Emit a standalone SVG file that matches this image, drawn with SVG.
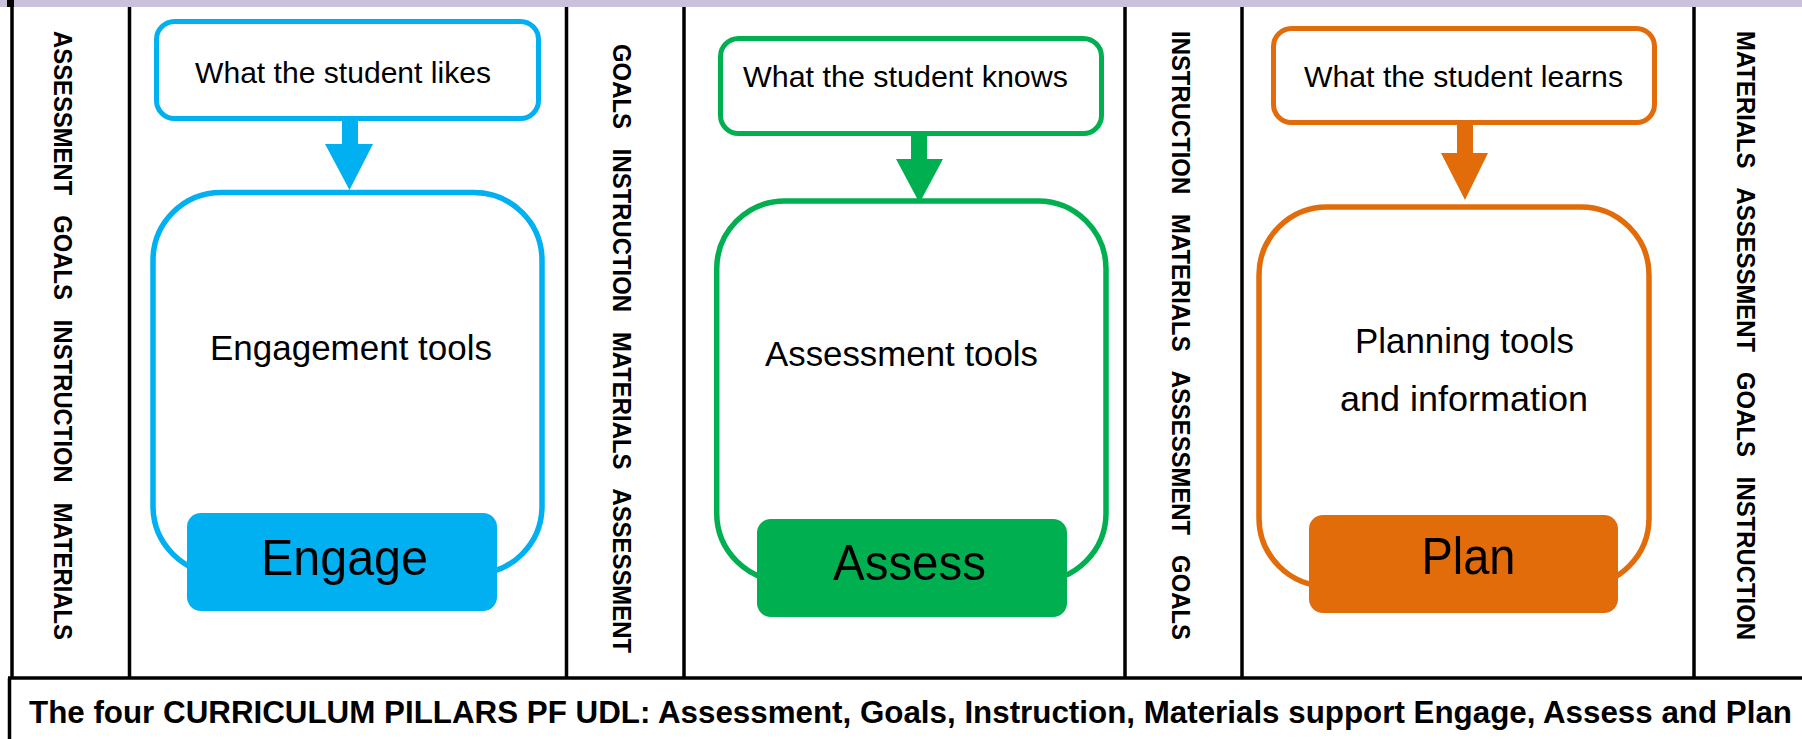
<svg xmlns="http://www.w3.org/2000/svg" width="1802" height="739" viewBox="0 0 1802 739">
<style>
.frame{stroke:#000;stroke-width:3.5;fill:none}
.pillar{font-family:"Liberation Sans",Arial,sans-serif;font-weight:bold;font-size:26px;fill:#000}
.lbl{font-family:"Liberation Sans",Arial,sans-serif;font-size:30px;fill:#000;text-anchor:middle}
.mid{font-family:"Liberation Sans",Arial,sans-serif;font-size:35px;fill:#000;text-anchor:middle}
.btn{font-family:"Liberation Sans",Arial,sans-serif;font-size:50px;fill:#000;text-anchor:middle}
.cap{font-family:"Liberation Sans",Arial,sans-serif;font-weight:bold;font-size:31px;fill:#000}
.blue{stroke:#00B0F0}
.green{stroke:#00B050}
.orange{stroke:#E36C0A}
.top{fill:#fff;stroke-width:5}
.main{fill:#fff;stroke-width:5.5}
</style>
<rect x="0" y="0" width="1802" height="739" fill="#fff"/>
<g id="frame">
<rect x="0" y="0" width="1802" height="7" fill="#CCC1DA"/>
<rect x="7" y="0" width="7" height="7" fill="#000"/>
<line class="frame" x1="12" y1="5" x2="12" y2="678"/>
<line class="frame" x1="129.5" y1="7" x2="129.5" y2="678"/>
<line class="frame" x1="566.5" y1="7" x2="566.5" y2="678"/>
<line class="frame" x1="684" y1="7" x2="684" y2="678"/>
<line class="frame" x1="1125" y1="7" x2="1125" y2="678"/>
<line class="frame" x1="1242" y1="7" x2="1242" y2="678"/>
<line class="frame" x1="1694" y1="7" x2="1694" y2="678"/>
<line class="frame" x1="8" y1="678" x2="1802" y2="678"/>
<line class="frame" x1="9.5" y1="678" x2="9.5" y2="739"/>
</g>
<g id="pillars">
<text class="pillar" xml:space="preserve" transform="translate(54,31) rotate(90)" textLength="609" lengthAdjust="spacingAndGlyphs">ASSESSMENT   GOALS   INSTRUCTION   MATERIALS</text>
<text class="pillar" xml:space="preserve" transform="translate(613,44) rotate(90)" textLength="609" lengthAdjust="spacingAndGlyphs">GOALS   INSTRUCTION   MATERIALS   ASSESSMENT</text>
<text class="pillar" xml:space="preserve" transform="translate(1172,31) rotate(90)" textLength="609" lengthAdjust="spacingAndGlyphs">INSTRUCTION   MATERIALS   ASSESSMENT   GOALS</text>
<text class="pillar" xml:space="preserve" transform="translate(1737,31) rotate(90)" textLength="609" lengthAdjust="spacingAndGlyphs">MATERIALS   ASSESSMENT   GOALS   INSTRUCTION</text>
</g>
<g id="connectors">
<polygon fill="#00B0F0" points="342,119 358,119 358,144 373,144 349.5,190 325,144 342,144"/>
<polygon fill="#00B050" points="911,134 927,134 927,159 943,159 919.5,203 896,159 911,159"/>
<polygon fill="#E36C0A" points="1457,123 1473,123 1473,153 1488,153 1465,200 1441,153 1457,153"/>
</g>
<g id="engage-source">
<rect class="top blue" x="156.5" y="21.5" width="382" height="97" rx="18"/>
<text class="lbl" x="343" y="83" textLength="296" lengthAdjust="spacingAndGlyphs">What the student likes</text>
</g>
<g id="assess-source">
<rect class="top green" x="720.5" y="38.5" width="381" height="95" rx="18"/>
<text class="lbl" x="905.5" y="87" textLength="325" lengthAdjust="spacingAndGlyphs">What the student knows</text>
</g>
<g id="plan-source">
<rect class="top orange" x="1273.5" y="28.5" width="381" height="94" rx="18"/>
<text class="lbl" x="1463.5" y="87" textLength="319" lengthAdjust="spacingAndGlyphs">What the student learns</text>
</g>
<g id="engage-tools">
<rect class="main blue" x="153" y="192.5" width="389" height="381.5" rx="68"/>
<text class="mid" x="351" y="360" textLength="282" lengthAdjust="spacingAndGlyphs">Engagement tools</text>
</g>
<g id="assess-tools">
<rect class="main green" x="716.7" y="201" width="389.3" height="380" rx="68"/>
<text class="mid" x="901.5" y="366" textLength="273" lengthAdjust="spacingAndGlyphs">Assessment tools</text>
</g>
<g id="plan-tools">
<rect class="main orange" x="1259" y="207" width="390" height="379" rx="68"/>
<text class="mid" x="1464.5" y="353" textLength="219" lengthAdjust="spacingAndGlyphs">Planning tools</text>
<text class="mid" x="1464" y="411" textLength="248" lengthAdjust="spacingAndGlyphs">and information</text>
</g>
<g id="engage">
<rect x="187" y="513" width="310" height="98" rx="14" fill="#00B0F0"/>
<text class="btn" x="344.5" y="575" textLength="167" lengthAdjust="spacingAndGlyphs">Engage</text>
</g>
<g id="assess">
<rect x="757" y="519" width="310" height="98" rx="14" fill="#00B050"/>
<text class="btn" x="909.5" y="580" textLength="153" lengthAdjust="spacingAndGlyphs">Assess</text>
</g>
<g id="plan">
<rect x="1309" y="515" width="309" height="98" rx="14" fill="#E36C0A"/>
<text class="btn" x="1468.4" y="574" style="font-size:52px" textLength="94" lengthAdjust="spacingAndGlyphs">Plan</text>
</g>
<g id="caption">
<text class="cap" x="29" y="723" textLength="1763" lengthAdjust="spacingAndGlyphs">The four CURRICULUM PILLARS PF UDL: Assessment, Goals, Instruction, Materials support Engage, Assess and Plan</text>
</g>
</svg>
